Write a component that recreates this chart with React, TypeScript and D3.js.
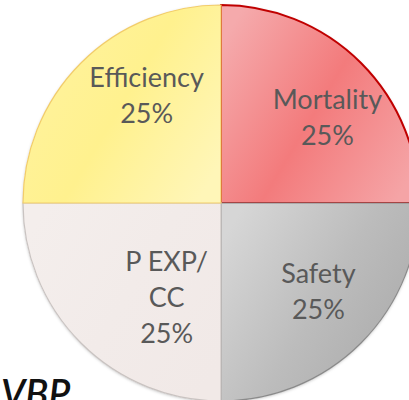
import { useMemo } from "react";
import * as d3 from "d3";

const WIDTH = 409;
const HEIGHT = 400;
const CX = 221;
const CY = 203;
const RADIUS = 198;

// slices go clockwise from 12 o'clock
const categories = ["Mortality", "Safety", "P EXP/\nCC", "Efficiency"];
const shares = [25, 25, 25, 25];

// gradient stops per slice: [light edge, main, light edge]
const fills = [
  ["#f5aaac", "#f37b7c", "#f5a4a6"],
  ["#d6d6d6", "#bcbcbc", "#a9a9a9"],
  ["#f4eeec", "#f2ebe9", "#f1e9e7"],
  ["#fff3a0", "#fff18e", "#fff6b8"],
];
const borders = ["#c00000", "#8a8a8a", "#c9c3c1", "#f2cc6a"];

// manual label nudges (PowerPoint style placement)
const nudges = [
  [14, 7],
  [5, -4],
  [38, 2],
  [18, -15],
];

export default function App() {
  const arcs = useMemo(() => {
    return d3
      .pie<number>()
      .sort(null)
      .value((d) => d)(shares);
  }, []);

  const arcGen = d3.arc<d3.PieArcDatum<number>>().innerRadius(0).outerRadius(RADIUS);
  const labelArc = d3
    .arc<d3.PieArcDatum<number>>()
    .innerRadius(RADIUS * 0.66)
    .outerRadius(RADIUS * 0.66);

  const fontSize = 27;
  const lineH = 36;

  return (
    <svg
      width={WIDTH}
      height={HEIGHT}
      style={{ position: "absolute", left: 0, top: 0, background: "#fff" }}
    >
      <defs>
        {fills.map((f, i) => (
          <linearGradient
            key={i}
            id={`g${i}`}
            gradientUnits="objectBoundingBox"
            x1="0"
            y1="0.2"
            x2="1"
            y2="0.8"
          >
            <stop offset="0%" stopColor={f[0]} />
            <stop offset="50%" stopColor={f[1]} />
            <stop offset="100%" stopColor={f[2]} />
          </linearGradient>
        ))}
        <filter id="shadow" x="-10%" y="-10%" width="120%" height="120%">
          <feDropShadow dx="0" dy="1" stdDeviation="1.5" floodColor="#000" floodOpacity="0.25" />
        </filter>
      </defs>
      <g transform={`translate(${CX},${CY})`}>
        <circle r={RADIUS} fill="#fff" filter="url(#shadow)" />
        {arcs.map((a, i) => (
          <path
            key={i}
            d={arcGen(a) ?? ""}
            fill={`url(#g${i})`}
            stroke={borders[i]}
            strokeWidth={i === 0 ? 2 : 1.2}
          />
        ))}
        {arcs.map((a, i) => {
          const [x, y] = labelArc.centroid(a);
          const lines = categories[i].split("\n").concat([`${shares[i]}%`]);
          const top = y + nudges[i][1] - ((lines.length - 1) * lineH) / 2;
          return (
            <text
              key={`t${i}`}
              textAnchor="middle"
              fontFamily="Lato, 'Open Sans', sans-serif"
              fontSize={fontSize}
              fill="#595959"
            >
              {lines.map((l, j) => (
                <tspan key={j} x={x + nudges[i][0]} y={top + j * lineH} dy="0.35em">
                  {l}
                </tspan>
              ))}
            </text>
          );
        })}
      </g>
      <text
        x={1}
        y={407}
        fontFamily="Lato, 'Open Sans', sans-serif"
        fontStyle="italic"
        fontWeight={600}
        fontSize={38}
        fill="#111"
      >
        VBP
      </text>
    </svg>
  );
}
